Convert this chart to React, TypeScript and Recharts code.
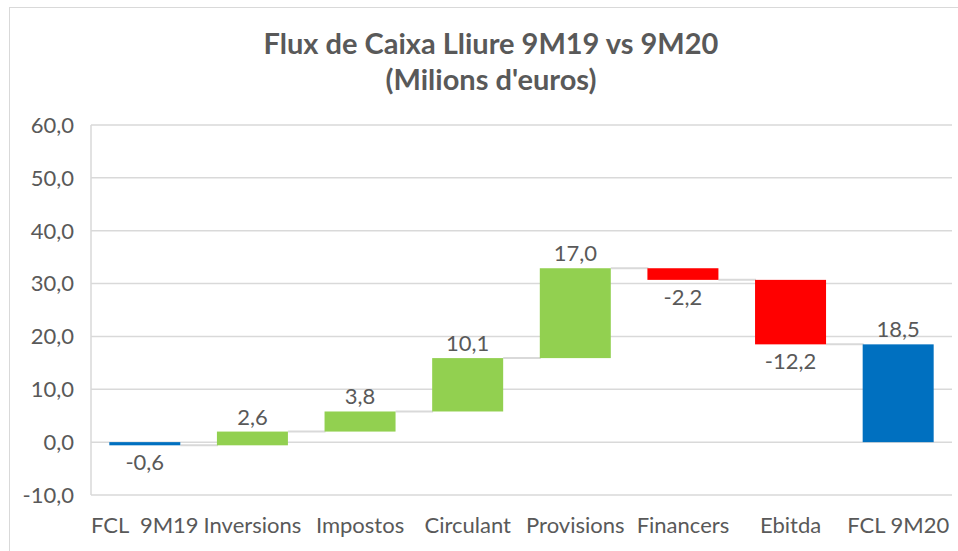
import React from 'react';
import { BarChart, Bar, XAxis, YAxis, CartesianGrid, LabelList } from 'recharts';

const categories = ['FCL\u00a0\u00a09M19', 'Inversions', 'Impostos', 'Circulant', 'Provisions', 'Financers', 'Ebitda', 'FCL 9M20'];
const deltas = [-0.6, 2.6, 3.8, 10.1, 17.0, -2.2, -12.2, 18.5];
const kinds = ['total', 'step', 'step', 'step', 'step', 'step', 'step', 'total'];
const yTicks = [-10, 0, 10, 20, 30, 40, 50, 60];

const COLORS = { total: '#0070C0', up: '#92D050', down: '#FF0000' };
const FONT = 'Lato, "Open Sans", sans-serif';
const TEXT = '#595959';
const GRID = '#d9d9d9';
const CAT_GAP = 0.17;

function buildRows() {
  let running = 0;
  return categories.map((name, i) => {
    const d = deltas[i];
    const start = kinds[i] === 'total' ? 0 : running;
    const end = kinds[i] === 'total' ? d : running + d;
    running = end;
    return {
      name,
      delta: d,
      kind: kinds[i],
      range: [Math.min(start, end), Math.max(start, end)],
      last: i === categories.length - 1,
    };
  });
}

const rows = buildRows();
const fmt = (v: number) => v.toFixed(1).replace('.', ',');

function WaterfallBar(props: any) {
  const { x, y, width, height } = props;
  const p = props.payload ?? props;
  const fill = p.kind === 'total' ? COLORS.total : p.delta >= 0 ? COLORS.up : COLORS.down;
  const endY = p.delta >= 0 ? y : y + height;
  const gap = (width * 2 * CAT_GAP) / (1 - 2 * CAT_GAP);
  return (
    <g>
      {!p.last && (
        <line x1={x + width} x2={x + width + gap + 1} y1={endY} y2={endY} stroke={GRID} strokeWidth={2} />
      )}
      <rect x={x} y={y} width={width} height={Math.max(height, 2)} fill={fill} />
    </g>
  );
}

function DeltaLabel(props: any) {
  const x = Number(props.x);
  const y = Number(props.y);
  const width = Number(props.width);
  const height = Number(props.height);
  const value = Number(props.value);
  const neg = value < 0;
  const ty = neg ? y + height + 25 : y - 7;
  return (
    <text x={x + width / 2} y={ty} textAnchor="middle" fill={TEXT} fontSize={22} fontFamily={FONT}>
      {fmt(value)}
    </text>
  );
}

export default function App() {
  return (
    <div style={{ position: 'absolute', left: 0, top: 0, width: 958, height: 551, background: '#fff', overflow: 'hidden' }}>
      <div
        style={{
          position: 'absolute',
          left: 9,
          top: 7,
          width: 980,
          height: 580,
          border: `1px solid ${GRID}`,
          boxSizing: 'border-box',
        }}
      />
      <div
        style={{
          position: 'absolute',
          left: 10,
          width: 962,
          top: 25,
          textAlign: 'center',
          fontFamily: FONT,
          fontWeight: 700,
          fontSize: 29,
          lineHeight: '36px',
          color: TEXT,
        }}
      >
        <div>Flux de Caixa Lliure 9M19 vs 9M20</div>
        <div>(Milions d'euros)</div>
      </div>
      <div style={{ position: 'absolute', left: 0, top: 0 }}>
        <BarChart
          width={958}
          height={551}
          data={rows}
          margin={{ top: 125, right: 6, bottom: 16, left: 0 }}
          barCategoryGap={`${CAT_GAP * 100}%`}
        >
          <CartesianGrid vertical={false} stroke={GRID} strokeWidth={1.5} />
          <XAxis
            dataKey="name"
            axisLine={false}
            tickLine={false}
            tickSize={0}
            tickMargin={22}
            height={40}
            interval={0}
            tick={{ fill: TEXT, fontSize: 22, fontFamily: FONT }}
          />
          <YAxis
            domain={[-10, 60]}
            ticks={yTicks}
            width={91}
            tickFormatter={fmt}
            axisLine={{ stroke: GRID, strokeWidth: 1.5 }}
            tickLine={false}
            tickSize={0}
            tickMargin={17}
            tick={{ fill: TEXT, fontSize: 22, fontFamily: FONT }}
          />
          <Bar dataKey="range" isAnimationActive={false} shape={<WaterfallBar />}>
            <LabelList dataKey="delta" content={<DeltaLabel />} />
          </Bar>
        </BarChart>
      </div>
    </div>
  );
}
